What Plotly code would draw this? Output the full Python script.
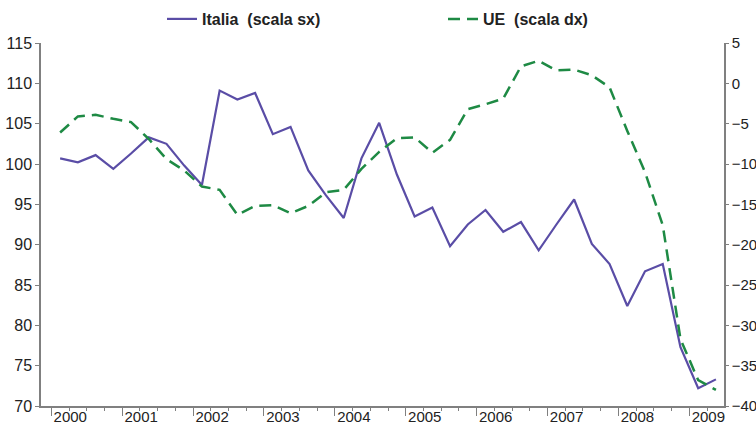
import plotly.graph_objects as go

years = list(range(2000, 2010))
quarters = [f"{y}Q{q}" for y in years for q in range(1, 5)][:38]

italia = [100.7, 100.2, 101.1, 99.4,
          101.3, 103.3, 102.5, 99.8,
          97.4, 109.1, 108.0, 108.8,
          103.7, 104.6, 99.2, 96.1,
          93.3, 100.7, 105.1, 98.7,
          93.5, 94.6, 89.8, 92.5,
          94.3, 91.6, 92.8, 89.3,
          92.5, 95.6, 90.1, 87.6,
          82.4, 86.7, 87.6, 77.3,
          72.2, 73.3]

ue = [-6.1, -4.1, -3.9, -4.4,
      -4.8, -6.9, -9.4, -10.8,
      -12.8, -13.2, -16.3, -15.2,
      -15.1, -16.1, -15.2, -13.5,
      -13.2, -10.6, -8.5, -6.8,
      -6.7, -8.6, -7.0, -3.2,
      -2.6, -1.9, 2.1, 2.8,
      1.6, 1.7, 1.0, -0.5,
      -5.9, -11.0, -17.6, -31.7,
      -36.8, -38.0]

year_labels = [str(y) for y in years]

# quarter midpoints on a numeric time axis
xq = [int(q[:4]) + (int(q[-1]) - 0.5) / 4 for q in quarters]

AX = "#808080"
FONT = "Liberation Sans, Arial, sans-serif"
TFY = dict(family=FONT, size=16, color="#222")
TFY2 = dict(family=FONT, size=15, color="#222")
TFX = dict(family=FONT, size=15, color="#222")

fig = go.Figure()
fig.add_trace(go.Scatter(
    x=xq, y=italia, mode="lines", name="Italia  (scala sx)",
    line=dict(color="#5A4DA6", width=2.2), yaxis="y"))
fig.add_trace(go.Scatter(
    x=xq, y=ue, mode="lines", name="UE  (scala dx)",
    line=dict(color="#1E8A44", width=2.5, dash="12px,7px"), yaxis="y2"))

fig.update_layout(
    width=756, height=425,
    margin=dict(l=41, r=32, t=43, b=19, autoexpand=False),
    paper_bgcolor="white", plot_bgcolor="white",
    font=dict(family=FONT, size=15, color="#222"),
    showlegend=True,
    legend=dict(orientation="h", xref="container", x=162 / 756, xanchor="left",
                yref="container", y=1 - 19 / 425, yanchor="middle",
                font=dict(family=FONT, size=16, color="#222", weight="bold"),
                entrywidth=236, entrywidthmode="pixels",
                bgcolor="rgba(0,0,0,0)", itemwidth=30),
    xaxis=dict(range=[1999.855, 2009.489], tickmode="array",
               tickvals=years, ticktext=year_labels,
               ticks="outside", ticklen=8, tickcolor=AX, tickwidth=1.2,
               ticklabelshift=19, ticklabelstandoff=-12,
               minor=dict(dtick=0.25, tick0=2000, ticks="outside", ticklen=3,
                          tickcolor=AX, tickwidth=1.2, showgrid=False),
               showline=True, linecolor=AX, linewidth=1.5,
               showgrid=False, zeroline=False, automargin=False,
               tickfont=TFX),
    yaxis=dict(range=[70, 115], dtick=5, tick0=70,
               ticks="outside", ticklen=4, tickcolor=AX, tickwidth=1.2,
               showline=True, linecolor=AX, linewidth=1.5,
               showgrid=False, zeroline=False, automargin=False,
               tickfont=TFY),
    yaxis2=dict(range=[-40, 5], dtick=5, tick0=-40, overlaying="y", side="right",
                ticks="outside", ticklen=3, tickcolor=AX, tickwidth=1.2,
                showline=True, linecolor=AX, linewidth=1.5,
                showgrid=False, zeroline=False, automargin=False,
                tickfont=TFY2),
)

fig.write_html("out.html", config={"displayModeBar": False},
               post_script="document.body.style.margin='0px';")
